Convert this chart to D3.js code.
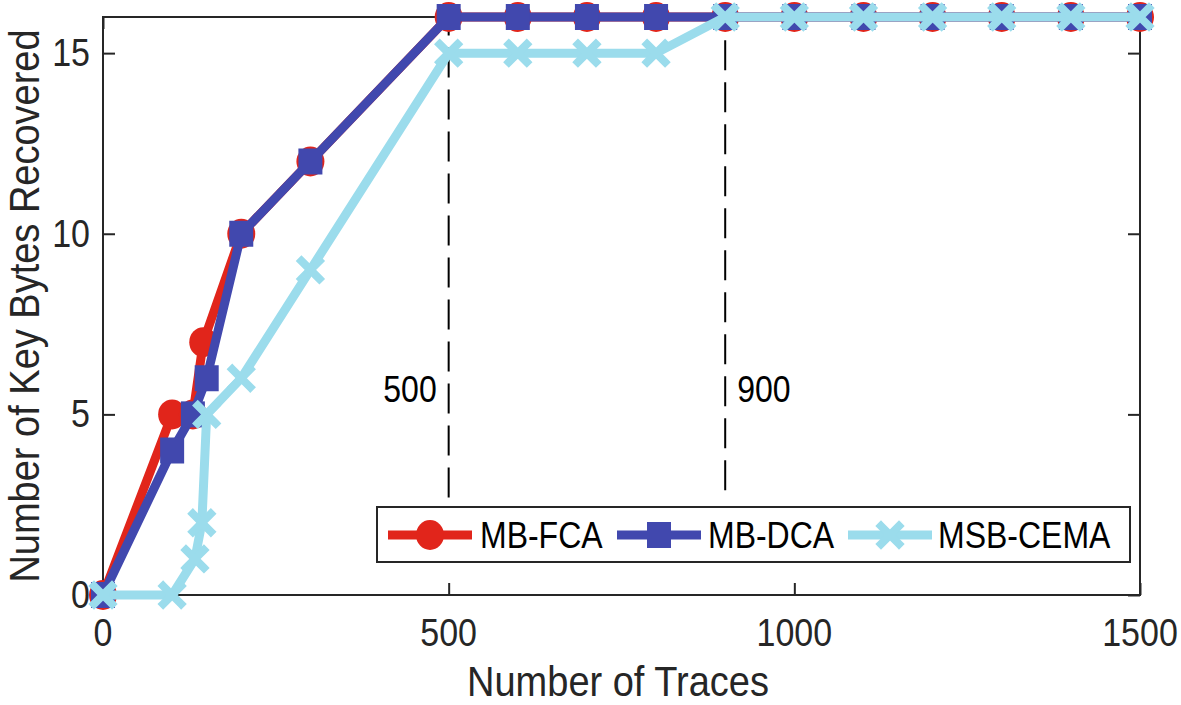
<!DOCTYPE html>
<html>
<head>
<meta charset="utf-8">
<script src="https://cdn.jsdelivr.net/npm/d3@7"></script>
<style>
  html, body { margin: 0; padding: 0; background: #fff; }
  svg { display: block; }
  text { font-family: "Liberation Sans", Arial, Helvetica, sans-serif; }
</style>
</head>
<body>
<svg id="chart" width="1181" height="705"></svg>
<script>
// ---- Data ----
const fcaX  = [0, 100, 130, 145, 200, 300, 500, 600, 700, 800, 900, 1000, 1100, 1200, 1300, 1400, 1500];
const fcaY  = [0, 5, 5, 7, 10, 12, 16, 16, 16, 16, 16, 16, 16, 16, 16, 16, 16];
const dcaX  = [0, 100, 130, 150, 200, 300, 500, 600, 700, 800, 900, 1000, 1100, 1200, 1300, 1400, 1500];
const dcaY  = [0, 4, 5, 6, 10, 12, 16, 16, 16, 16, 16, 16, 16, 16, 16, 16, 16];
const cemaX = [0, 100, 133, 143, 150, 200, 300, 500, 600, 700, 800, 900, 1000, 1100, 1200, 1300, 1400, 1500];
const cemaY = [0, 0, 1, 2, 5, 6, 9, 15, 15, 15, 15, 16, 16, 16, 16, 16, 16, 16];
const seriesNames = ["MB-FCA", "MB-DCA", "MSB-CEMA"];
const xTicks = [0, 500, 1000, 1500];
const yTicks = [0, 5, 10, 15];
const markX = [500, 900];        // dashed annotation lines
const markBottom = [2.7, 2.9];   // lower end of dashed lines (y units)
const markLabels = ["500", "900"];

// ---- Layout ----
const L = 103, R = 1140, T = 17, B = 595;
const K = 1.13; // vertical text stretch seen in the reference
const svg = d3.select("#chart");
const x = d3.scaleLinear().domain([0, 1500]).range([L, R]);
const y = d3.scaleLinear().domain([0, 16]).range([B, T]);
const axisColor = "#262626";

function sText(parent, px, py, str, size, anchor, fill, rot) {
  return parent.append("text")
    .attr("transform", `translate(${px},${py})${rot ? ` rotate(${rot})` : ""} scale(1,${K})`)
    .attr("text-anchor", anchor).attr("font-size", size).attr("fill", fill).text(str);
}

// frame
svg.append("rect").attr("x", L).attr("y", T).attr("width", R - L).attr("height", B - T)
  .attr("fill", "none").attr("stroke", axisColor).attr("stroke-width", 2);

// axes with inward ticks
const tickLen = 12;
const gx = svg.append("g").attr("transform", `translate(0,${B})`)
  .call(d3.axisBottom(x).tickValues(xTicks).tickSizeInner(-tickLen).tickSizeOuter(0).tickFormat(""));
const gxTop = svg.append("g").attr("transform", `translate(0,${T})`)
  .call(d3.axisTop(x).tickValues(xTicks).tickSizeInner(-tickLen).tickSizeOuter(0).tickFormat(""));
const gy = svg.append("g").attr("transform", `translate(${L},0)`)
  .call(d3.axisLeft(y).tickValues(yTicks).tickSizeInner(-tickLen).tickSizeOuter(0).tickFormat(""));
const gyR = svg.append("g").attr("transform", `translate(${R},0)`)
  .call(d3.axisRight(y).tickValues(yTicks).tickSizeInner(-tickLen).tickSizeOuter(0).tickFormat(""));
[gx, gxTop, gy, gyR].forEach(g => {
  g.select(".domain").remove();
  g.selectAll(".tick line").attr("stroke", axisColor).attr("stroke-width", 2);
  g.selectAll(".tick text").remove();
});

// tick labels
const tickSize = 34;
xTicks.forEach(v => sText(svg, x(v), 646, String(v), tickSize, "middle", axisColor));
yTicks.forEach(v => sText(svg, 90, y(v) + 13, String(v), tickSize, "end", axisColor));

// axis labels
sText(svg, 618, 696, "Number of Traces", 38, "middle", axisColor);
sText(svg, 39, (T + B) / 2, "Number of Key Bytes Recovered", 38, "middle", axisColor, -90);

// dashed annotation lines
markX.forEach((mx, i) => {
  svg.append("line").attr("x1", x(mx)).attr("x2", x(mx)).attr("y1", y(markBottom[i])).attr("y2", y(16))
    .attr("stroke", "#000").attr("stroke-width", 2).attr("stroke-dasharray", "30,12");
});
sText(svg, x(markX[0]) - 12, 402, markLabels[0], 32, "end", "#000");
sText(svg, x(markX[1]) + 12, 402, markLabels[1], 32, "start", "#000");

// series
const colors = ["#E1251B", "#4148AE", "#9BDCEC"];
const series = [
  { xs: fcaX, ys: fcaY, c: colors[0], m: "circle" },
  { xs: dcaX, ys: dcaY, c: colors[1], m: "square" },
  { xs: cemaX, ys: cemaY, c: colors[2], m: "x" }
];
const line = d3.line().x(d => x(d[0])).y(d => y(d[1]));

function drawMarker(g, type, cx, cy, c) {
  if (type === "circle") {
    g.append("ellipse").attr("cx", cx).attr("cy", cy).attr("rx", 14).attr("ry", 15).attr("fill", c);
  } else if (type === "square") {
    g.append("rect").attr("x", cx - 12).attr("y", cy - 13).attr("width", 24).attr("height", 26).attr("fill", c);
  } else {
    const s = 9;
    g.append("path").attr("d", `M${cx - s},${cy - s}L${cx + s},${cy + s}M${cx - s},${cy + s}L${cx + s},${cy - s}`)
      .attr("stroke", c).attr("stroke-width", 8).attr("stroke-linecap", "square");
  }
}

series.forEach(s => {
  const pts = s.xs.map((v, i) => [v, s.ys[i]]);
  const g = svg.append("g");
  g.append("path").attr("d", line(pts)).attr("fill", "none").attr("stroke", s.c)
    .attr("stroke-width", 9).attr("stroke-linejoin", "round");
  pts.forEach(p => drawMarker(g, s.m, x(p[0]), y(p[1]), s.c));
});

// legend
const lg = svg.append("g");
lg.append("rect").attr("x", 377).attr("y", 507).attr("width", 753).attr("height", 55)
  .attr("fill", "#fff").attr("stroke", axisColor).attr("stroke-width", 2);
const legendItems = [
  { x0: 388, tx: 480 },
  { x0: 617, tx: 708 },
  { x0: 848, tx: 938 }
];
legendItems.forEach((it, i) => {
  const cy = 535;
  lg.append("line").attr("x1", it.x0).attr("x2", it.x0 + 84).attr("y1", cy).attr("y2", cy)
    .attr("stroke", series[i].c).attr("stroke-width", 9);
  drawMarker(lg, series[i].m, it.x0 + 42, cy, series[i].c);
  sText(lg, it.tx, cy + 13, seriesNames[i], 32, "start", "#000");
});
</script>
</body>
</html>
